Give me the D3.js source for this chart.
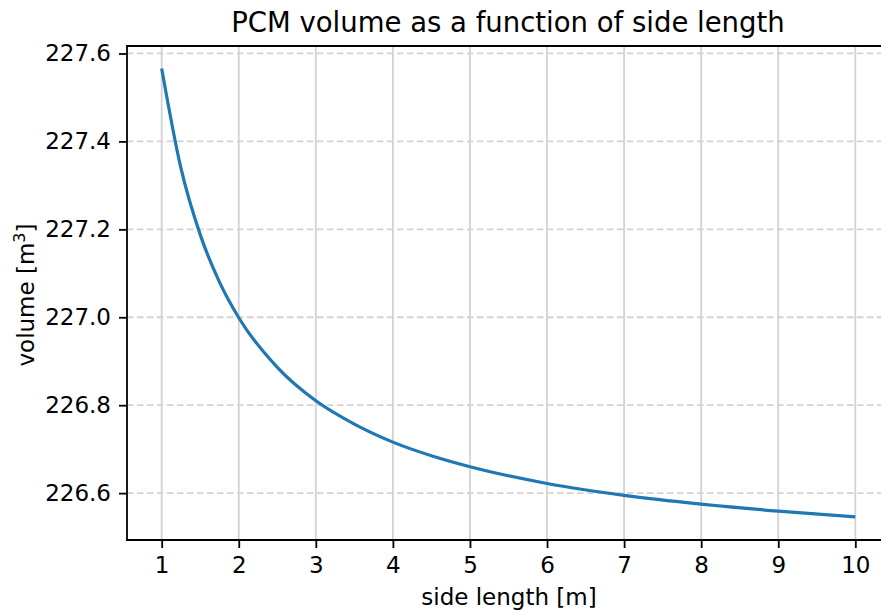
<!DOCTYPE html>
<html>
<head>
<meta charset="utf-8">
<script src="https://cdn.jsdelivr.net/npm/d3@7"></script>
<style>
  body { margin: 0; background: #fff; }
  svg { display: block; font-family: "DejaVu Sans", sans-serif; }
</style>
</head>
<body>
<svg id="chart" width="881" height="612"></svg>
<script>
// side length [m] and PCM volume [m^3]
const sideLength = [1, 1.25, 1.5, 1.75, 2, 2.5, 3, 3.5, 4, 4.5, 5, 6, 7, 8, 9, 10]
const volume = [227.566, 227.339, 227.188, 227.080, 226.999, 226.886, 226.810, 226.757, 226.716, 226.685, 226.660, 226.622, 226.595, 226.575, 226.559, 226.546]
const xTicks = [1, 2, 3, 4, 5, 6, 7, 8, 9, 10]
const yTicks = [226.6, 226.8, 227.0, 227.2, 227.4, 227.6]

const svg = d3.select("#chart")
const margin = {top: 46, right: -9, bottom: 72, left: 127}
const width = 881, height = 612
const w = width - margin.left - margin.right
const h = height - margin.top - margin.bottom

const x = d3.scaleLinear().domain([0.55, 10.45]).range([0, w])
const y = d3.scaleLinear().domain([226.4934, 227.617]).range([h, 0])

const g = svg.append("g").attr("transform", `translate(${margin.left},${margin.top})`)

// vertical grid (solid)
g.selectAll(".xgrid").data(xTicks).join("line")
    .attr("x1", d => x(d)).attr("x2", d => x(d))
    .attr("y1", 0).attr("y2", h)
    .attr("stroke", "#d3d3d3").attr("stroke-width", 1.8)

// horizontal grid (dashed)
g.selectAll(".ygrid").data(yTicks).join("line")
    .attr("x1", 0).attr("x2", w)
    .attr("y1", d => y(d)).attr("y2", d => y(d))
    .attr("stroke", "#d3d3d3").attr("stroke-width", 1.8)
    .attr("stroke-dasharray", "6.5,3.5")

const line = d3.line()
    .x((d, i) => x(sideLength[i]))
    .y(d => y(d))
    .curve(d3.curveMonotoneX)

g.append("path")
    .datum(volume)
    .attr("d", line)
    .attr("fill", "none")
    .attr("stroke", "#1f77b4")
    .attr("stroke-width", 3.2)

// axes
const xAxis = d3.axisBottom(x).tickValues(xTicks).tickSize(8).tickPadding(9).tickFormat(d3.format("d"))
const yAxis = d3.axisLeft(y).tickValues(yTicks).tickSize(8).tickPadding(8).tickFormat(d3.format(".1f"))

const gx = g.append("g").attr("transform", `translate(0,${h})`).call(xAxis)
const gy = g.append("g").call(yAxis)
;[gx, gy].forEach(a => {
    a.select(".domain").remove()
    a.selectAll(".tick line").attr("stroke", "#000").attr("stroke-width", 1.8)
    a.selectAll(".tick text").attr("fill", "#000").style("font-size", "23px").style("font-family", "DejaVu Sans")
})

// spines
const spine = (x1, y1, x2, y2) => g.append("line")
    .attr("x1", x1).attr("y1", y1).attr("x2", x2).attr("y2", y2)
    .attr("stroke", "#000").attr("stroke-width", 1.8).attr("stroke-linecap", "square")
spine(0, 0, 0, h)
spine(0, h, w, h)
spine(0, 0, w, 0)
spine(w, 0, w, h)

// title and labels
svg.append("text")
    .attr("x", 508).attr("y", 32)
    .attr("text-anchor", "middle")
    .style("font-size", "27.5px")
    .text("PCM volume as a function of side length")

svg.append("text")
    .attr("x", 509).attr("y", 605)
    .attr("text-anchor", "middle")
    .style("font-size", "23px")
    .text("side length [m]")

const yl = svg.append("text")
    .attr("transform", "translate(34,295) rotate(-90)")
    .attr("text-anchor", "middle")
    .style("font-size", "23px")
yl.append("tspan").text("volume [m")
yl.append("tspan").attr("dy", -9).style("font-size", "16px").text("3")
yl.append("tspan").attr("dy", 9).text("]")
</script>
</body>
</html>
